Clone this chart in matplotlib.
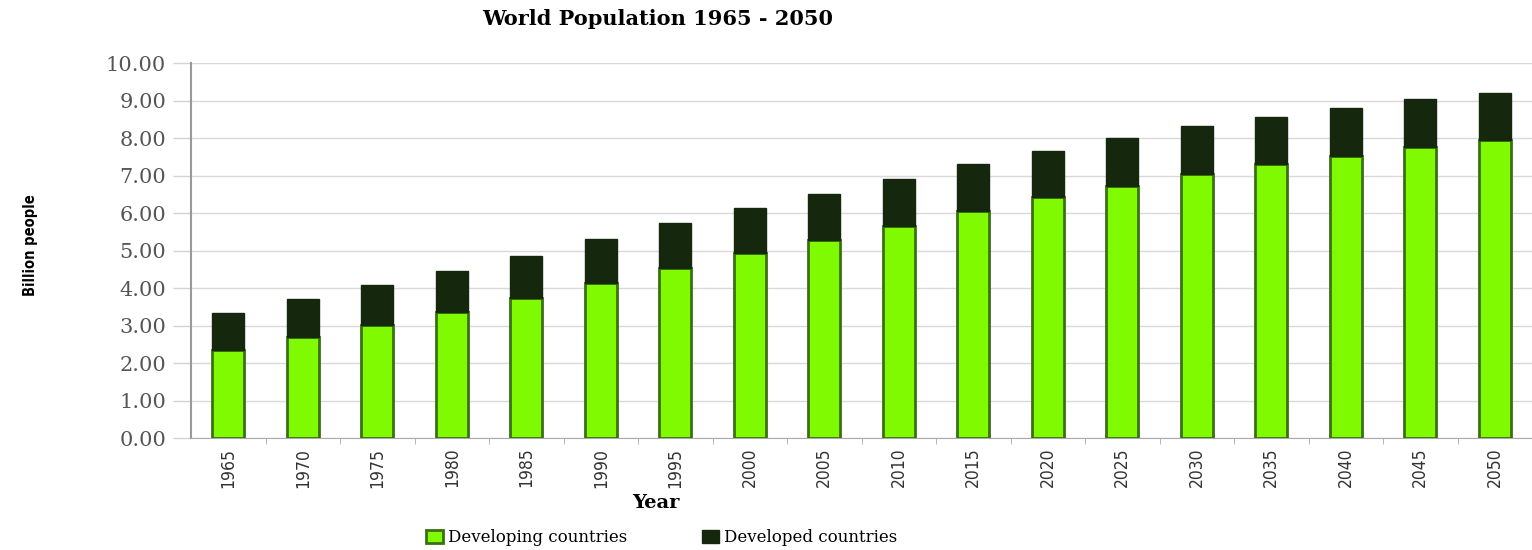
import matplotlib
matplotlib.use("Agg")
import matplotlib.pyplot as plt
import numpy as np

# billions
YEARS = [1965, 1970, 1975, 1980, 1985, 1990, 1995, 2000, 2005,
         2010, 2015, 2020, 2025, 2030, 2035, 2040, 2045, 2050]
DEVELOPING = [2.36, 2.70, 3.02, 3.37, 3.74, 4.14, 4.54, 4.94, 5.28,
              5.66, 6.06, 6.43, 6.73, 7.05, 7.31, 7.53, 7.76, 7.95]
TOTAL = [3.34, 3.71, 4.09, 4.46, 4.86, 5.31, 5.74, 6.14, 6.51,
         6.91, 7.31, 7.66, 8.00, 8.33, 8.58, 8.82, 9.04, 9.20]
DEVELOPED = [t - d for t, d in zip(TOTAL, DEVELOPING)]

GREEN = "#80fa00"
GREEN_EDGE = "#3a7010"
DARK = "#15270c"

fig = plt.figure(figsize=(15.32, 5.5), dpi=100)
ax = fig.add_axes([0.1247, 0.2036, 0.8753, 0.681])

x = np.arange(len(YEARS))
ax.bar(x, DEVELOPING, width=0.43, color=GREEN, edgecolor=GREEN_EDGE,
       linewidth=2.0, label="Developing countries", zorder=3)
ax.bar(x, DEVELOPED, width=0.43, bottom=DEVELOPING, color=DARK,
       edgecolor=DARK, linewidth=1.0, label="Developed countries", zorder=3)

ax.set_xlim(-0.5, len(YEARS) - 0.5)
ax.set_ylim(0, 10)
ax.set_yticks(np.arange(0, 10.5, 1))
ax.set_yticklabels([f"{v:.2f}" for v in np.arange(0, 10.5, 1)],
                   family="DejaVu Serif", fontsize=15, color="#555555")
ax.set_xticks(x)
ax.set_xticklabels([str(y) for y in YEARS], rotation=90,
                   family="DejaVu Sans", fontstretch="condensed",
                   fontsize=12.5, color="#333333")
ax.set_xticks(x[:-1] + 0.5, minor=True)
ax.tick_params(axis="x", which="major", length=0, pad=7)
ax.tick_params(axis="x", which="minor", length=4, color="#aaaaaa")
ax.tick_params(axis="y", length=13, color="#d4d4d4", width=1, pad=5)

ax.grid(axis="y", color="#d9d9d9", linewidth=1.0, zorder=0)
ax.set_axisbelow(True)
ax.spines[["top", "right"]].set_visible(False)
ax.spines["left"].set_color("#999999")
ax.spines["left"].set_linewidth(1.5)
ax.spines["bottom"].set_color("#aaaaaa")

fig.text(0.429, 0.965, "World Population 1965 - 2050", ha="center", va="center",
         family="DejaVu Serif", fontweight="bold", fontsize=15)
fig.text(0.428, 0.085, "Year", ha="center", va="center",
         family="DejaVu Serif", fontweight="bold", fontsize=14)
fig.text(0.02, 0.555, "Billion people", rotation=90, ha="center", va="center",
         family="DejaVu Sans", fontstretch="condensed", fontweight="bold",
         fontsize=10.5)

fig.legend(loc="center", bbox_to_anchor=(0.432, 0.022), ncol=2, frameon=False,
           prop={"family": "DejaVu Serif", "size": 12}, handlelength=1.0,
           handleheight=0.8, columnspacing=4.5, handletextpad=0.3)

fig.savefig("out.png", dpi=100)
